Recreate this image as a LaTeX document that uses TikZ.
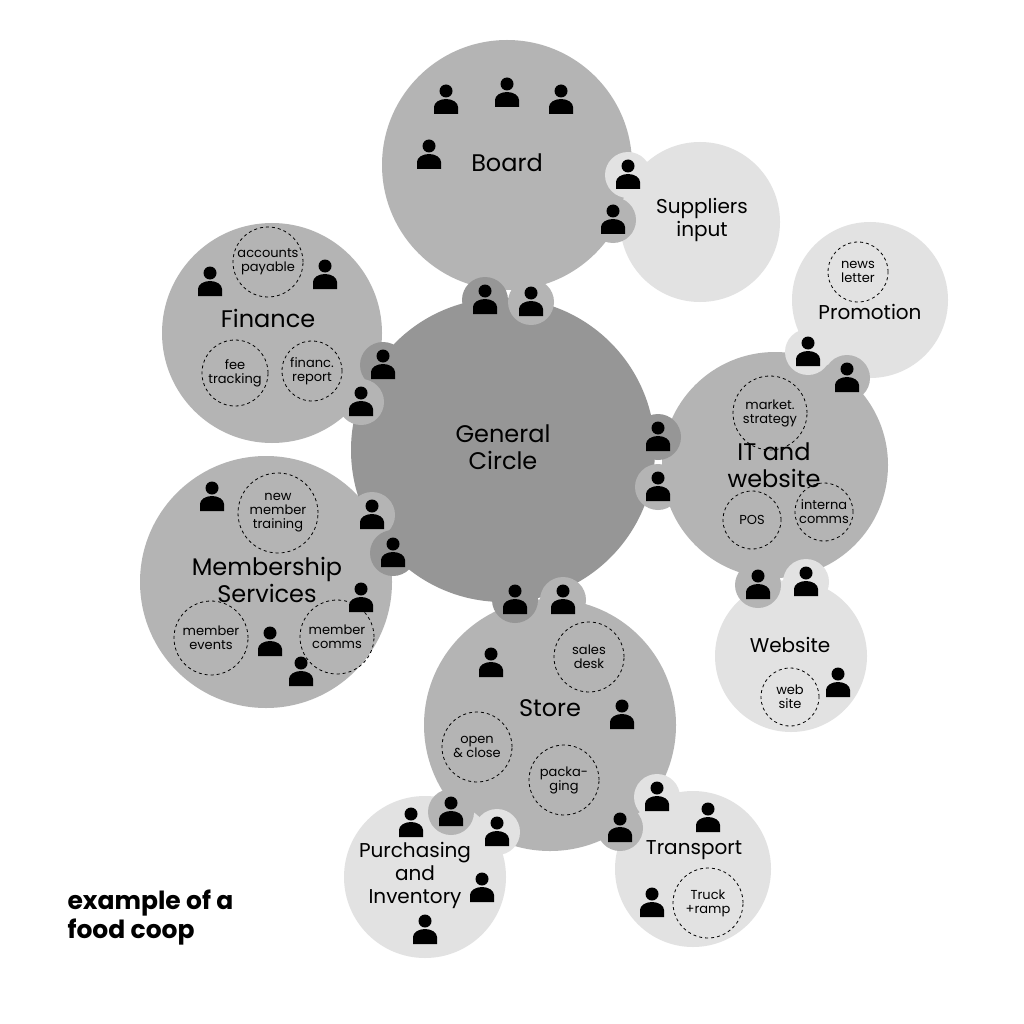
\documentclass[tikz,border=0pt]{standalone}
\usepackage{fontspec}
\setmainfont{Poppins}
\definecolor{darkgray}{HTML}{969696}
\definecolor{midgray}{HTML}{B4B4B4}
\definecolor{lightgray}{HTML}{E2E2E2}
\tikzset{
  circ/.style={circle,inner sep=0pt,minimum size=#1},
  bubble/.style={circle,inner sep=0pt,minimum size=46pt,fill=#1},
  task/.style={circle,draw,dashed,thick,inner sep=0pt,minimum size=#1,align=center,
    font=\fontsize{13}{14}\selectfont},
  big/.style={align=center,font=\fontsize{24}{27}\selectfont},
  med/.style={align=center,font=\fontsize{20}{23}\selectfont},
  person/.pic={
    \fill (0,-9) circle (6.5pt);
    \fill (-12,14) -- (-12,7) arc (180:0:12pt and 8pt) -- (12,14) -- cycle;
  }
}
\begin{document}
\begin{tikzpicture}[x=1pt,y=-1pt]
\useasboundingbox[fill=white] (0,0) rectangle (1024,1024);

% circles
\node[circ=250pt,fill=midgray] (board) at (507,165) {};
\node[circ=160pt,fill=lightgray] (suppliers) at (700,222) {};
\node[circ=220pt,fill=midgray] (finance) at (272,333) {};
\node[circ=252pt,fill=midgray] (member) at (266,582) {};
\node[circ=156pt,fill=lightgray] (promo) at (870,300) {};
\node[circ=226pt,fill=midgray] (it) at (775,465) {};
\node[circ=152pt,fill=lightgray] (website) at (791,656) {};
\node[circ=304pt,fill=darkgray] (general) at (503,450) {};
\node[circ=252pt,fill=midgray] (store) at (550,725) {};
\node[circ=162pt,fill=lightgray] (purchasing) at (425,877) {};
\node[circ=156pt,fill=lightgray] (transport) at (693,869) {};

% link bubbles
\foreach \x/\y/\col in {485/300/darkgray, 531/302/midgray, 383/365/darkgray, 361/402/midgray,
    658/437/darkgray, 658/487/midgray, 372/515/midgray, 393/553/darkgray,
    515/600/darkgray, 563/600/midgray, 808/352/lightgray, 847/378/midgray,
    758/585/midgray, 806/582/lightgray, 628/175/lightgray, 613/220/midgray,
    451/812/midgray, 497/832/lightgray, 620/828/midgray, 657/797/lightgray}
  \node[bubble=\col] at (\x,\y) {};

% people
\foreach \x/\y in {485/300, 531/302, 383/365, 361/402, 658/437, 658/487, 372/515, 393/553,
    515/600, 563/600, 808/352, 847/378, 758/585, 806/582, 628/175, 613/220,
    451/812, 497/832, 620/828, 657/797,
    446/100, 507/93, 561/100, 429/155, 210/282, 325/275, 212/497, 361/598,
    270/642, 301/672, 491/663, 622/715, 838/683, 411/823, 482/888, 425/930,
    708/818, 652/903}
  \pic at (\x,\y) {person};

% tasks
\node[task=70pt] (payable) at (268,262) {accounts\\payable};
\node[task=66pt] (fee) at (235,373) {fee\\tracking};
\node[task=60pt] (report) at (312,371) {financ.\\report};
\node[task=80pt] (training) at (278,513) {new\\member\\training};
\node[task=74pt] (events) at (211,638) {member\\events};
\node[task=74pt] (comms) at (337,637) {member\\comms};
\node[task=70pt] (sales) at (589,657) {sales\\desk};
\node[task=70pt] (open) at (477,747) {open\\\& close};
\node[task=70pt] (packaging) at (564,780) {packa-\\ging};
\node[task=74pt] (strategy) at (770,413) {market.\\strategy};
\node[task=58pt] (pos) at (752,520) {POS};
\node[task=58pt] (internal) at (824,512) {interna\\comms};
\node[task=60pt] (letter) at (858,272) {news\\letter};
\node[task=58pt] (site) at (790,697) {web\\site};
\node[task=70pt] (truck) at (708,903) {Truck\\+ramp};

% labels
\node[big] at (507,163) {Board};
\node[big] at (503,447) {General\\Circle};
\node[med] at (702,220) {Suppliers\\input};
\node[big] at (268,318) {Finance};
\node[big] at (267,580) {Membership\\Services};
\node[big] at (550,708) {Store};
\node[big] at (774,465) {IT and\\website};
\node[med] at (870,312) {Promotion};
\node[med] at (790,645) {Website};
\node[med] at (415,875) {Purchasing\\and\\Inventory};
\node[med] at (694,850) {Transport};
\node[align=left,anchor=west,font=\bfseries\fontsize{25}{29}\selectfont] at (64,918) {example of a\\food coop};
\end{tikzpicture}
\end{document}
